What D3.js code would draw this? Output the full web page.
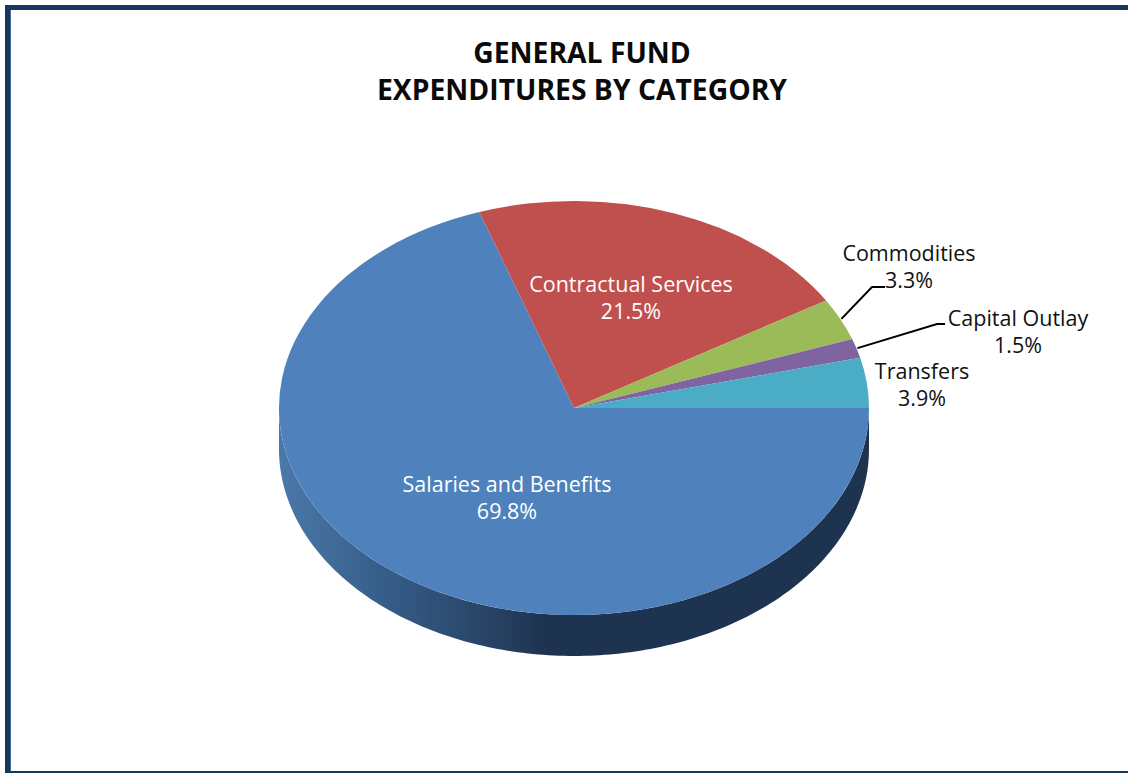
<!DOCTYPE html>
<html>
<head>
<meta charset="utf-8">
<script src="https://cdn.jsdelivr.net/npm/d3@7"></script>
<style>
html,body{margin:0;padding:0;background:#fff;overflow:hidden}
text{font-family:"Open Sans",sans-serif}
</style>
</head>
<body>
<svg id="chart" width="1128" height="773"></svg>
<script>
// General fund expenditure shares, in percent
const categories = ["Salaries and Benefits", "Contractual Services", "Commodities", "Capital Outlay", "Transfers"];
const shares = [69.8, 21.5, 3.3, 1.5, 3.9];
const sliceColors = ["#4f81bd", "#c0504d", "#9bbb59", "#8064a2", "#4bacc6"];
const titleLines = ["GENERAL FUND", "EXPENDITURES BY CATEGORY"];

// Label placement for each slice: text centre, fill, and optional leader elbow
const labelLayout = [
  {x: 507, y: 484, fill: "#ffffff"},
  {x: 631, y: 284, fill: "#ffffff"},
  {x: 909, y: 253, fill: "#111111", elbow: [872, 287], end: [885, 287]},
  {x: 1018, y: 318, fill: "#111111", elbow: [937, 324], end: [945, 324]},
  {x: 922, y: 371, fill: "#111111"}
];

const cx = 574, cy = 408, rx = 295, ry = 207, depth = 41;
const svg = d3.select("#chart");

// Frame: heavy rules on top and left, a thin one along the bottom
const frameColor = "#17375e";
svg.append("rect").attr("x", 5).attr("y", 5).attr("width", 1123).attr("height", 5).attr("fill", frameColor);
svg.append("rect").attr("x", 5).attr("y", 5).attr("width", 5).attr("height", 768).attr("fill", frameColor);
svg.append("rect").attr("x", 10).attr("y", 10).attr("width", 1).attr("height", 761).attr("fill", "#4a6c96");
svg.append("rect").attr("x", 5).attr("y", 771).attr("width", 1123).attr("height", 2).attr("fill", frameColor);

// Title
svg.append("g").selectAll("text").data(titleLines).join("text")
  .attr("x", 582).attr("y", (d, i) => 63 + i * 37)
  .attr("text-anchor", "middle")
  .attr("font-size", 28.3).attr("font-weight", 700).attr("fill", "#0a0a0a")
  .text(d => d);

// Side wall shading runs left to right across the pie width
const defs = svg.append("defs");
const wallGrad = defs.append("linearGradient").attr("id", "wall")
  .attr("gradientUnits", "userSpaceOnUse")
  .attr("x1", cx - rx).attr("x2", cx + rx).attr("y1", 0).attr("y2", 0);
[[0, "#4a78a8"], [0.2, "#345a85"], [0.38, "#263f60"], [0.45, "#1e3350"], [1, "#1e3350"]]
  .forEach(([o, c]) => wallGrad.append("stop").attr("offset", o).attr("stop-color", c));

// Lower half rim of the disc, extruded downward
const ellipseX = t => cx + rx * Math.cos(t);
const ellipseY = t => cy + ry * Math.sin(t);
const rim = d3.range(0, 181).map(a => a * Math.PI / 180);
const wallArea = d3.area()
  .x(ellipseX)
  .y0(ellipseY)
  .y1(t => ellipseY(t) + depth);
svg.append("path").attr("d", wallArea(rim)).attr("fill", "url(#wall)");

// Top face: slices run clockwise from due east, squashed into an ellipse
const pie = d3.pie().sort(null).startAngle(Math.PI / 2).endAngle(Math.PI / 2 + 2 * Math.PI);
const arcs = pie(shares);
const arc = d3.arc().innerRadius(0).outerRadius(rx);
svg.append("g")
  .attr("transform", `translate(${cx},${cy}) scale(1,${ry / rx})`)
  .selectAll("path").data(arcs).join("path")
  .attr("d", arc)
  .attr("fill", (d, i) => sliceColors[i]);

// Leader lines start just outside the slice rim at its mid angle
const leaders = arcs.map((d, i) => ({d, l: labelLayout[i]})).filter(o => o.l.elbow);
svg.append("g").selectAll("path").data(leaders).join("path")
  .attr("fill", "none").attr("stroke", "#000").attr("stroke-width", 2)
  .attr("d", ({d, l}) => {
    const t = (d.startAngle + d.endAngle) / 2 - Math.PI / 2;
    return d3.line()([[cx + (rx + 1) * Math.cos(t), cy + (ry + 1) * Math.sin(t)], l.elbow, l.end]);
  });

// Category name with its percentage underneath
const labels = svg.append("g").selectAll("g").data(categories).join("g")
  .attr("text-anchor", "middle")
  .attr("font-size", 21.5)
  .attr("fill", (d, i) => labelLayout[i].fill);
labels.append("text")
  .attr("x", (d, i) => labelLayout[i].x).attr("y", (d, i) => labelLayout[i].y + 8)
  .text(d => d);
labels.append("text")
  .attr("x", (d, i) => labelLayout[i].x).attr("y", (d, i) => labelLayout[i].y + 35)
  .text((d, i) => shares[i].toFixed(1) + "%");
</script>
</body>
</html>
